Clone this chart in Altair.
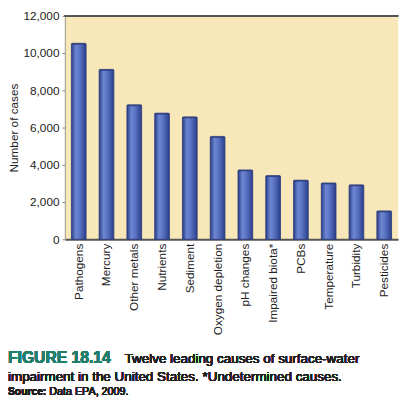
import altair as alt
import pandas as pd

# values
causes = ["Pathogens", "Mercury", "Other metals", "Nutrients", "Sediment",
          "Oxygen depletion", "pH changes", "Impaired biota*", "PCBs",
          "Temperature", "Turbidity", "Pesticides"]
cases = [10500, 9100, 7200, 6750, 6550, 5500, 3700, 3400, 3150, 3000, 2900, 1500]
y_ticks = [0, 2000, 4000, 6000, 8000, 10000, 12000]

df = pd.DataFrame({"cause": causes, "cases": cases})

FONT = "Arial, Helvetica, sans-serif"
W, H = 340, 228
L = 58  # left padding

x_enc = alt.X("cause:N", sort=causes, title=None,
              axis=alt.Axis(labelAngle=-90, labelFont=FONT, labelFontSize=12, labelColor="#222",
                            labelPadding=4, ticks=False, domainColor="#555", domainWidth=2))
y_enc = alt.Y("cases:Q", title="Number of cases",
              scale=alt.Scale(domain=[0, 12000], nice=False),
              axis=alt.Axis(values=y_ticks, format=",.0f", labelOverlap=False,
                            labelFont=FONT, labelFontSize=12,
                            labelColor="#222", labelPadding=3, tickSize=3, tickColor="#888",
                            domainColor="#999", grid=False, titleFont=FONT, titleFontSize=12,
                            titleFontWeight="normal", titleColor="#222", titlePadding=3))

bar_fill = alt.LinearGradient(
    gradient="linear", x1=0, x2=1, y1=0, y2=0,
    stops=[alt.GradientStop(offset=0, color="#2b3d86"),
           alt.GradientStop(offset=0.3, color="#6c86d2"),
           alt.GradientStop(offset=0.55, color="#5a74c4"),
           alt.GradientStop(offset=1, color="#2c3f8a")],
)

bars = alt.Chart(df).mark_bar(size=15, fill=bar_fill, stroke="#26367a", strokeWidth=0.8).encode(
    x=x_enc, y=y_enc,
)

# caps on top of the cylinders
caps = alt.Chart(df).mark_tick(size=14, thickness=2, color="#2a3a7c").encode(
    x=x_enc, y=y_enc,
)

top_line = alt.Chart(df).mark_rule(color="#555", strokeWidth=1.5).encode(
    x=alt.value(0), x2=alt.value(W), y=alt.value(0)
)

def caption(text, x, y, size, bold=False, color="#222"):
    return alt.Chart(df).mark_text(
        text=text, align="left", baseline="alphabetic", font=FONT, fontSize=size,
        fontWeight="bold" if bold else "normal", color=color,
    ).encode(x=alt.value(x - L), y=alt.value(y))

# caption x positions are page-relative to the svg's left edge
fig_label = caption("FIGURE 18.14", 0, 354, 16, bold=True, color="#1f7f6b")
line1 = caption("Twelve leading causes of surface-water", 119, 354, 13.7)
line2 = caption("impairment in the United States. *Undetermined causes.", 0, 373, 13.7)
src = caption("Source:", 0, 387, 10.5, bold=True)
src2 = caption("Data EPA, 2009.", 42, 387, 11)

chart = (
    alt.layer(bars, caps, top_line, fig_label, line1, line2, src, src2)
    .properties(width=W, height=H, autosize=alt.AutoSizeParams(type="none"),
                padding={"left": L, "top": 4, "right": 5, "bottom": 162},
                background="white")
    .configure_view(fill="#f8e7b8", stroke=None)
)

chart.save("out.html", embed_options={"renderer": "svg", "actions": False})
